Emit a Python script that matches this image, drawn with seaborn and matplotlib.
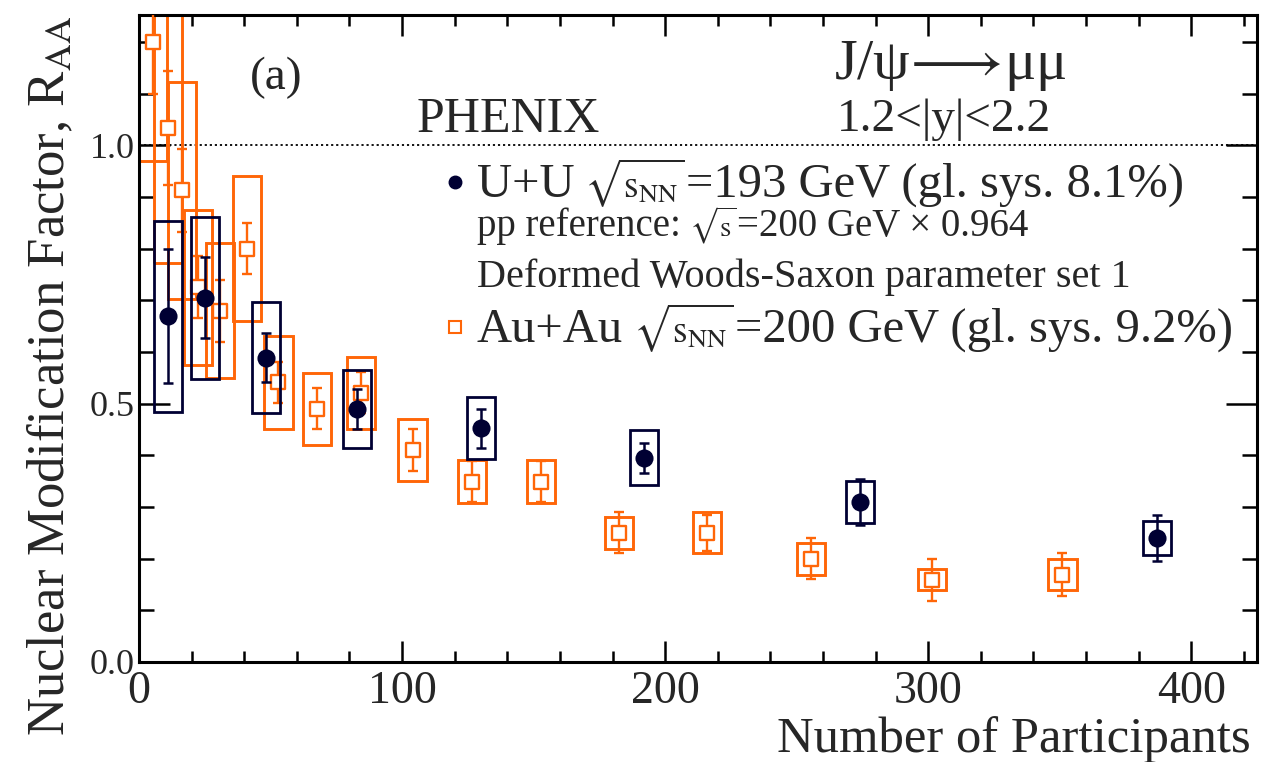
import numpy as np
import pandas as pd
import matplotlib
matplotlib.use("Agg")
import matplotlib.pyplot as plt
from matplotlib.patches import Rectangle
from matplotlib.ticker import MultipleLocator
import seaborn as sns

# ---------------- data ----------------
uu_npart = [11.0, 25.0, 48.3, 82.9, 130.0, 192.0, 274.0, 387.0]
uu_raa = [0.669, 0.705, 0.589, 0.490, 0.452, 0.395, 0.310, 0.240]
uu_stat = [0.130, 0.079, 0.048, 0.039, 0.038, 0.029, 0.045, 0.044]
uu_sys = [0.185, 0.157, 0.107, 0.075, 0.060, 0.053, 0.041, 0.033]

au_npart = [5.3, 11.0, 16.3, 22.4, 30.8, 41.0, 53.0, 67.6, 84.5, 104.0,
            126.6, 152.8, 182.5, 216.0, 255.5, 301.5, 351.0]
au_raa = [1.200, 1.033, 0.913, 0.725, 0.680, 0.800, 0.541, 0.490, 0.521, 0.410,
          0.349, 0.349, 0.250, 0.250, 0.200, 0.159, 0.169]
au_stat = [0.100, 0.110, 0.080, 0.060, 0.060, 0.050, 0.040, 0.040, 0.040, 0.040,
           0.040, 0.040, 0.040, 0.035, 0.040, 0.041, 0.041]
au_sys = [0.230, 0.260, 0.210, 0.150, 0.130, 0.140, 0.090, 0.070, 0.070, 0.060,
          0.041, 0.041, 0.031, 0.040, 0.031, 0.020, 0.030]

NAVY = "#000033"
ORANGE = "#ff6608"
BOX_HW = 5.4

sns.set_theme(style="ticks")
plt.rcParams["font.family"] = ["Liberation Serif", "DejaVu Serif"]
plt.rcParams["mathtext.fontset"] = "stix"

fig = plt.figure(figsize=(12.75, 7.62), dpi=100)
ax = fig.add_axes([139 / 1275, 1 - 662 / 762, 1118 / 1275, 647 / 762])

df_uu = pd.DataFrame({"npart": uu_npart, "raa": uu_raa})
df_au = pd.DataFrame({"npart": au_npart, "raa": au_raa})

# reference line
ax.axhline(1.0, color="black", ls=(0, (1.2, 1.6)), lw=1.3, zorder=1)

# Au+Au systematic boxes + stat errors
for x, y, s in zip(au_npart, au_raa, au_sys):
    ax.add_patch(Rectangle((x - BOX_HW, y - s), 2 * BOX_HW, 2 * s, fill=False,
                           ec=ORANGE, lw=2.1, zorder=2))
ax.errorbar(au_npart, au_raa, yerr=au_stat, fmt="none", ecolor=ORANGE,
            elinewidth=1.7, capsize=3.3, capthick=1.7, zorder=3)
sns.scatterplot(data=df_au, x="npart", y="raa", ax=ax, marker="s", s=110,
                facecolor="white", edgecolor=ORANGE, linewidth=1.7, zorder=4)

# U+U systematic boxes + stat errors
for x, y, s in zip(uu_npart, uu_raa, uu_sys):
    ax.add_patch(Rectangle((x - BOX_HW, y - s), 2 * BOX_HW, 2 * s, fill=False,
                           ec=NAVY, lw=2.0, zorder=5))
ax.errorbar(uu_npart, uu_raa, yerr=uu_stat, fmt="none", ecolor=NAVY,
            elinewidth=1.8, capsize=3.6, capthick=1.8, zorder=6)
sns.scatterplot(data=df_uu, x="npart", y="raa", ax=ax, marker="o", s=170,
                color=NAVY, edgecolor=NAVY, linewidth=0, zorder=7)

ax.set_xlim(0, 425)
ax.set_ylim(0, 1.252)
ax.xaxis.set_major_locator(MultipleLocator(100))
ax.xaxis.set_minor_locator(MultipleLocator(20))
ax.yaxis.set_major_locator(MultipleLocator(0.5))
ax.yaxis.set_minor_locator(MultipleLocator(0.1))
ax.yaxis.set_major_formatter(matplotlib.ticker.FormatStrFormatter("%.1f"))
ax.tick_params(which="both", direction="in", top=True, right=True, width=1.8,
               color="black")
ax.tick_params(which="major", axis="x", length=15, labelsize=33, pad=6)
ax.tick_params(which="minor", axis="x", length=8)
ax.tick_params(which="major", axis="y", length=22, labelsize=26, pad=3)
ax.tick_params(which="minor", axis="y", length=11)
for sp in ax.spines.values():
    sp.set_linewidth(2.2)
    sp.set_color("black")
    sp.set_visible(True)

ax.set_xlabel("Number of Participants", fontsize=36.5, loc="right")
ax.xaxis.set_label_coords(0.994, -0.083)
ax.xaxis.label.set_va("top")
ax.set_ylabel(r"Nuclear Modification Factor, R$_{\mathrm{AA}}$", fontsize=38, loc="top")
ax.yaxis.set_label_coords(-0.057, 1.0)

T = ax.transAxes
ax.text(0.123, 0.903, "(a)", fontsize=34, ha="center", va="center", transform=T)
ax.text(0.248, 0.838, "PHENIX", fontsize=36, ha="left", va="center", transform=T)
ax.text(0.622, 0.921, r"J/ψ$\!\longrightarrow\!$μμ", fontsize=42, ha="left",
        va="center", transform=T)
ax.text(0.624, 0.838, "1.2<|y|<2.2", fontsize=34, ha="left", va="center", transform=T)

renderer = fig.canvas.get_renderer()
axw = ax.get_window_extent(renderer).width


def chain(x, y, pieces):
    """Place text pieces one after another on a common baseline."""
    for txt, fs, gap in pieces:
        t = ax.text(x, y, txt, fontsize=fs, ha="left", va="baseline", transform=T)
        w = t.get_window_extent(renderer).width
        x += (w + gap) / axw


ax.plot([0.283], [0.742], marker="o", ms=9, color=NAVY, transform=T, clip_on=False)
chain(0.302, 0.719, [("U+U", 35, 10),
                     (r"$\sqrt{\mathrm{s}_{\mathrm{NN}}}$", 27, 1),
                     ("=193 GeV (gl. sys. 8.1%)", 35, 0)])
chain(0.302, 0.658, [("pp reference:", 28, 8),
                     (r"$\sqrt{\mathrm{s}}$", 21, 1),
                     ("=200 GeV × 0.964", 28, 0)])
ax.text(0.302, 0.580, "Deformed Woods-Saxon parameter set 1",
        fontsize=29, ha="left", va="baseline", transform=T)
ax.plot([0.283], [0.518], marker="s", ms=8, mfc="white", mec=ORANGE, mew=1.5,
        transform=T, clip_on=False)
chain(0.302, 0.495, [("Au+Au", 35, 10),
                     (r"$\sqrt{\mathrm{s}_{\mathrm{NN}}}$", 27, 1),
                     ("=200 GeV (gl. sys. 9.2%)", 35, 0)])

if ax.get_legend() is not None:
    ax.get_legend().remove()

fig.savefig("out.png", dpi=100, facecolor="white")
